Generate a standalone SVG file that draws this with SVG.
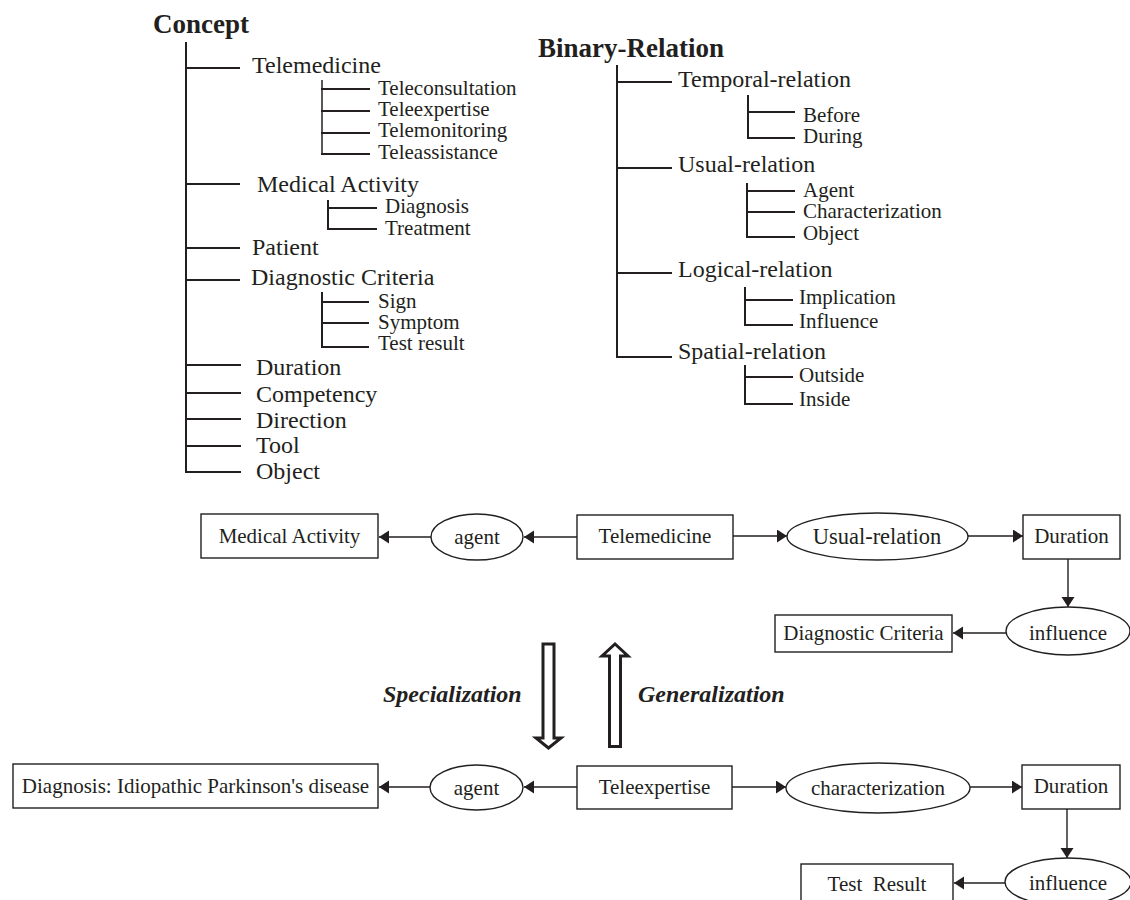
<svg xmlns="http://www.w3.org/2000/svg" width="1130" height="900" viewBox="0 0 1130 900">
<defs>
<style>
text{font-family:"Liberation Serif","Times New Roman",serif;fill:#231f20}
.h{font-size:27px;font-weight:bold}
.t1{font-size:24px}
.t2{font-size:21px}
.g{font-size:21px;text-anchor:middle}
.bi{font-size:24px;font-weight:bold;font-style:italic}
.tree line{stroke:#231f20;stroke-width:2}
.box{fill:#fff;stroke:#231f20;stroke-width:1.4}
.conn line{stroke:#231f20;stroke-width:1.4;marker-end:url(#ah)}
.blk{fill:#fff;stroke:#231f20;stroke-width:3;stroke-linejoin:miter}
</style>
<marker id="ah" markerUnits="userSpaceOnUse" markerWidth="12" markerHeight="14" refX="10" refY="6.5" orient="auto">
<path d="M0,0 L10,6.5 L0,13 z" fill="#231f20"/>
</marker>
</defs>
<rect width="1130" height="900" fill="#fff"/>

<g id="concept-tree" class="tree">
<text class="h" x="153" y="33">Concept</text>
<line x1="186" y1="42" x2="186" y2="473"/>
<line x1="185" y1="68" x2="240" y2="68"/>
<line x1="185" y1="184" x2="240" y2="184"/>
<line x1="185" y1="248" x2="240" y2="248"/>
<line x1="185" y1="280" x2="240" y2="280"/>
<line x1="185" y1="365" x2="241" y2="365"/>
<line x1="185" y1="393" x2="241" y2="393"/>
<line x1="185" y1="419" x2="241" y2="419"/>
<line x1="185" y1="446" x2="241" y2="446"/>
<line x1="185" y1="472" x2="241" y2="472"/>
<text class="t1" x="252" y="73">Telemedicine</text>
<line x1="322" y1="80" x2="322" y2="155" style="stroke-width:1.5"/>
<line x1="321" y1="89" x2="370" y2="89"/>
<line x1="321" y1="111" x2="370" y2="111"/>
<line x1="321" y1="133" x2="370" y2="133"/>
<line x1="321" y1="154" x2="370" y2="154"/>
<text class="t2" x="378" y="95">Teleconsultation</text>
<text class="t2" x="378" y="116">Teleexpertise</text>
<text class="t2" x="378" y="137">Telemonitoring</text>
<text class="t2" x="378" y="159">Teleassistance</text>
<text class="t1" x="257" y="192">Medical Activity</text>
<line x1="328" y1="200" x2="328" y2="230"/>
<line x1="327" y1="208" x2="377" y2="208"/>
<line x1="327" y1="229" x2="377" y2="229"/>
<text class="t2" x="385" y="213">Diagnosis</text>
<text class="t2" x="385" y="235">Treatment</text>
<text class="t1" x="252" y="255">Patient</text>
<text class="t1" x="251" y="285">Diagnostic Criteria</text>
<line x1="322" y1="292" x2="322" y2="348"/>
<line x1="321" y1="302" x2="369" y2="302"/>
<line x1="321" y1="323" x2="369" y2="323"/>
<line x1="321" y1="347" x2="369" y2="347"/>
<text class="t2" x="378" y="308">Sign</text>
<text class="t2" x="378" y="329">Symptom</text>
<text class="t2" x="378" y="350">Test result</text>
<text class="t1" x="256" y="375">Duration</text>
<text class="t1" x="256" y="402">Competency</text>
<text class="t1" x="256" y="428">Direction</text>
<text class="t1" x="256" y="453">Tool</text>
<text class="t1" x="256" y="479">Object</text>
</g>

<g id="binary-relation-tree" class="tree">
<text class="h" x="538" y="57">Binary-Relation</text>
<line x1="617" y1="65" x2="617" y2="358"/>
<line x1="616" y1="82" x2="672" y2="82"/>
<line x1="616" y1="168" x2="672" y2="168"/>
<line x1="616" y1="273" x2="672" y2="273"/>
<line x1="616" y1="357" x2="672" y2="357"/>
<text class="t1" x="678" y="87">Temporal-relation</text>
<line x1="748" y1="95" x2="748" y2="139"/>
<line x1="747" y1="112" x2="795" y2="112"/>
<line x1="747" y1="138" x2="795" y2="138"/>
<text class="t2" x="803" y="122">Before</text>
<text class="t2" x="803" y="143">During</text>
<text class="t1" x="678" y="172">Usual-relation</text>
<line x1="747" y1="183" x2="747" y2="238"/>
<line x1="746" y1="191" x2="795" y2="191"/>
<line x1="746" y1="212" x2="795" y2="212"/>
<line x1="746" y1="237" x2="795" y2="237"/>
<text class="t2" x="803" y="197">Agent</text>
<text class="t2" x="803" y="218">Characterization</text>
<text class="t2" x="803" y="240">Object</text>
<text class="t1" x="678" y="277">Logical-relation</text>
<line x1="745" y1="287" x2="745" y2="326"/>
<line x1="744" y1="300" x2="793" y2="300"/>
<line x1="744" y1="325" x2="793" y2="325"/>
<text class="t2" x="799" y="304">Implication</text>
<text class="t2" x="799" y="328">Influence</text>
<text class="t1" x="678" y="359">Spatial-relation</text>
<line x1="745" y1="365" x2="745" y2="405"/>
<line x1="744" y1="377" x2="793" y2="377"/>
<line x1="744" y1="404" x2="793" y2="404"/>
<text class="t2" x="799" y="382">Outside</text>
<text class="t2" x="799" y="406">Inside</text>
</g>

<g id="connectors" class="conn">
<line x1="577" y1="537" x2="524" y2="537"/>
<line x1="431" y1="537" x2="379" y2="537"/>
<line x1="733" y1="536" x2="787" y2="536"/>
<line x1="968" y1="536" x2="1023" y2="536"/>
<line x1="1068" y1="559" x2="1068" y2="607"/>
<line x1="1006" y1="633" x2="953" y2="633"/>
<line x1="577" y1="787" x2="524" y2="787"/>
<line x1="430" y1="787" x2="379" y2="787"/>
<line x1="732" y1="787" x2="786" y2="787"/>
<line x1="970" y1="787" x2="1022" y2="787"/>
<line x1="1067" y1="809" x2="1067" y2="858"/>
<line x1="1005" y1="883" x2="954" y2="883"/>
</g>

<g id="n-medical-activity"><rect class="box" x="201" y="514" width="177" height="44"/><text class="g" x="289.5" y="543">Medical Activity</text></g>
<g id="n-agent1"><ellipse class="box" cx="477" cy="537" rx="46" ry="23"/><text class="g" x="477" y="544">agent</text></g>
<g id="n-telemedicine"><rect class="box" x="577" y="515" width="156" height="44"/><text class="g" x="655" y="543">Telemedicine</text></g>
<g id="n-usual-relation"><ellipse class="box" cx="877.5" cy="536.5" rx="90.5" ry="23.5"/><text class="g" x="877" y="544" style="font-size:22.5px">Usual-relation</text></g>
<g id="n-duration1"><rect class="box" x="1023" y="515" width="97" height="44"/><text class="g" x="1071.5" y="543">Duration</text></g>
<g id="n-influence1"><ellipse class="box" cx="1068" cy="631" rx="62" ry="24"/><text class="g" x="1068" y="640">influence</text></g>
<g id="n-diagnostic-criteria"><rect class="box" x="775" y="615" width="177" height="37"/><text class="g" x="863.5" y="640">Diagnostic Criteria</text></g>

<g id="specialization">
<polygon class="blk" points="543,644 554,644 554,738 561,738 548.5,748 536,738 543,738"/>
<text class="bi" x="383" y="702">Specialization</text>
</g>
<g id="generalization">
<polygon class="blk" points="609.5,746.5 620.5,746.5 620.5,656 628,656 615,644 602,656 609.5,656"/>
<text class="bi" x="638" y="702">Generalization</text>
</g>

<g id="n-diagnosis-ipd"><rect class="box" x="13" y="764" width="365" height="44"/><text class="g" x="195.5" y="793">Diagnosis: Idiopathic Parkinson's disease</text></g>
<g id="n-agent2"><ellipse class="box" cx="476.5" cy="787.5" rx="46.5" ry="22.5"/><text class="g" x="476.5" y="795">agent</text></g>
<g id="n-teleexpertise"><rect class="box" x="577" y="766" width="155" height="43"/><text class="g" x="654.5" y="794">Teleexpertise</text></g>
<g id="n-characterization"><ellipse class="box" cx="878" cy="788" rx="92" ry="25"/><text class="g" x="878" y="795">characterization</text></g>
<g id="n-duration2"><rect class="box" x="1022" y="765" width="98" height="44"/><text class="g" x="1071" y="793">Duration</text></g>
<g id="n-influence2"><ellipse class="box" cx="1068" cy="882" rx="63" ry="24"/><text class="g" x="1068" y="890">influence</text></g>
<g id="n-test-result"><rect class="box" x="801" y="864" width="152" height="44"/><text class="g" x="877" y="891" style="white-space:pre">Test  Result</text></g>
</svg>
